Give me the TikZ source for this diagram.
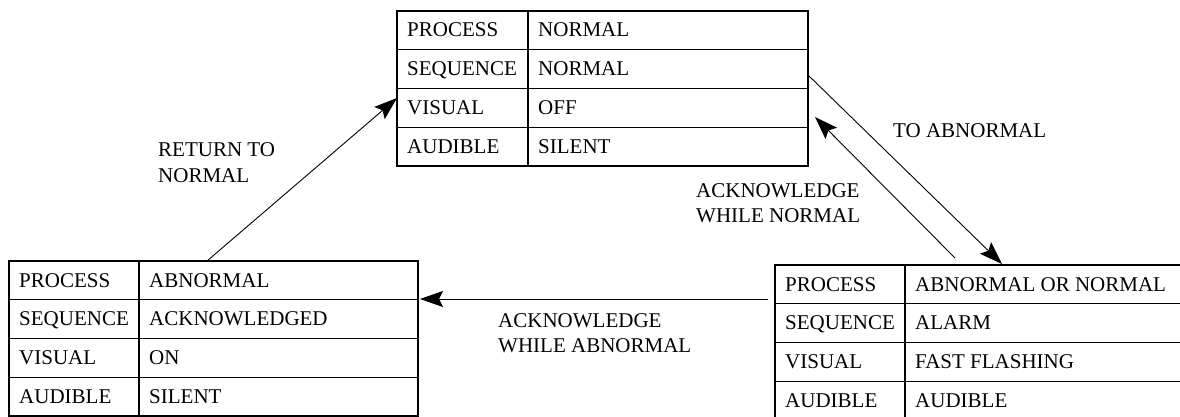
\documentclass[tikz,border=0pt]{standalone}
\usepackage{fontspec}
\setmainfont{Liberation Serif}
\usetikzlibrary{arrows.meta,calc}

\tikzset{
  statebox/.style={draw, line width=1.1pt, minimum height=155pt,
    anchor=north west, inner sep=0pt, outer sep=0pt},
  tablerule/.style={line width=1.1pt},
  cell/.style={anchor=base west, inner sep=0pt, font=\fontsize{21}{25}\selectfont},
  caption/.style={anchor=base west, inner sep=0pt, align=left,
    font=\fontsize{21}{25}\selectfont},
  flow/.style={line width=0.9pt, -{Stealth[length=23pt,width=16pt,inset=4pt]}},
}

% #1 name, #2 x, #3 y, #4 width, #5 first column width, #6-#9 state values
\newcommand\statetable[9]{%
  \node[statebox, minimum width=#4pt] (#1) at (#2,#3) {};
  \draw[tablerule] ($(#1.north west)+(#5pt,0)$) -- ($(#1.south west)+(#5pt,0)$);
  \foreach \k in {1,2,3}
    \draw[tablerule] ($(#1.north west)!\k/4!(#1.south west)$) -- ($(#1.north east)!\k/4!(#1.south east)$);
  \foreach \t [count=\k from 0] in {PROCESS,SEQUENCE,VISUAL,AUDIBLE}
    \node[cell] (#1-key\k) at ($(#1.north west)+(10pt,-\k*38.75pt-26pt)$) {\t};
  \foreach \t [count=\k from 0] in {#6,#7,#8,#9}
    \node[cell] (#1-val\k) at ($(#1.north west)+(#5pt+10pt,-\k*38.75pt-26pt)$) {\t};
}

\begin{document}
\begin{tikzpicture}[x=1pt,y=-1pt]
  \useasboundingbox (0,0) rectangle (1180,417);
  \clip (0,0) rectangle (1180,417);

  % the three alarm states
  \statetable{normal}{397}{11}{411}{131}{NORMAL}{NORMAL}{OFF}{SILENT}
  \statetable{ack}{9}{261}{409}{130}{ABNORMAL}{ACKNOWLEDGED}{ON}{SILENT}
  \statetable{alarm}{775}{265}{410}{130}{ABNORMAL OR NORMAL}{ALARM}{FAST FLASHING}{AUDIBLE}

  % transitions
  \draw[flow] ($(ack.north west)+(198pt,0)$) -- ($(normal.north west)+(0,-87pt)$);
  \draw[flow] ($(normal.north east)+(0,-64pt)$) -- ($(alarm.north west)+(227pt,1pt)$);
  \draw[flow] ($(alarm.north west)+(180pt,7pt)$) -- ($(normal.north east)+(7pt,-106pt)$);
  \draw[flow] ($(alarm.north west)+(-7pt,-34pt)$) -- ($(ack.north east)+(2pt,-38pt)$);

  % transition captions (anchored on the baseline of their last line)
  \node[caption] (c-return) at (158,182) {RETURN TO\\NORMAL};
  \node[caption] (c-abn) at (893,137) {TO ABNORMAL};
  \node[caption] (c-acknorm) at (696,222) {ACKNOWLEDGE\\WHILE NORMAL};
  \node[caption] (c-ackabn) at (498,352) {ACKNOWLEDGE\\WHILE ABNORMAL};
\end{tikzpicture}
\end{document}
